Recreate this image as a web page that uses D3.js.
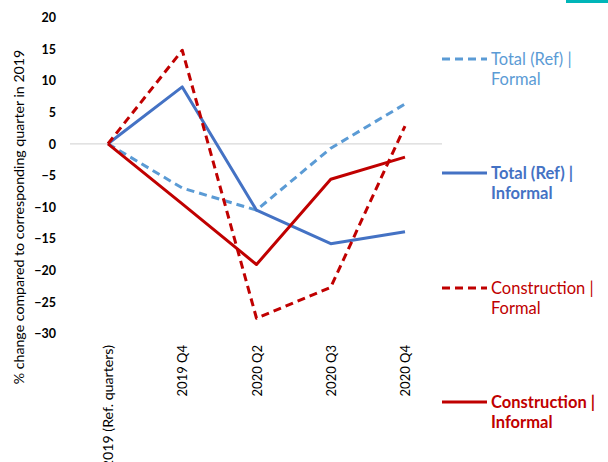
<!DOCTYPE html>
<html><head><meta charset="utf-8">
<script src="https://cdn.jsdelivr.net/npm/d3@7"></script>
<style>body{margin:0;background:#fff}svg{display:block;font-family:Lato,"Open Sans",sans-serif}</style>
</head><body>
<svg id="c" width="608" height="462"></svg>
<script>
const categories = ["2019 (Ref. quarters)", "2019 Q4", "2020 Q2", "2020 Q3", "2020 Q4"];
const totalFormal = [0, -7, -10.5, -0.7, 6.3];
const totalInformal = [0, 9.0, -10.5, -15.8, -13.9];
const constructionFormal = [0, 14.8, -27.6, -22.7, 2.8];
const constructionInformal = [0, -9.5, -19.1, -5.6, -2.1];
const yTicks = [20, 15, 10, 5, 0, -5, -10, -15, -20, -25, -30];
const seriesNames = ["Total (Ref) |\nFormal", "Total (Ref) |\nInformal", "Construction |\nFormal", "Construction |\nInformal"];

const series = [
  {name: seriesNames[0], values: totalFormal, color: "#5B9BD5", dash: "8,5", bold: false, ly: 59},
  {name: seriesNames[1], values: totalInformal, color: "#4472C4", dash: null, bold: true, ly: 173},
  {name: seriesNames[2], values: constructionFormal, color: "#C00000", dash: "8,5", bold: false, ly: 288},
  {name: seriesNames[3], values: constructionInformal, color: "#C00000", dash: null, bold: true, ly: 402}
];

const svg = d3.select("#c");
svg.append("rect").attr("x", 566).attr("y", 0).attr("width", 42).attr("height", 3).attr("fill", "#00B5B8");

const x = d3.scalePoint().domain(categories).range([108, 405]);
const y = d3.scaleLinear().domain([-30, 20]).range([333.4, 17.4]);

// zero gridline
svg.append("line").attr("x1", 70).attr("x2", 442).attr("y1", y(0)).attr("y2", y(0))
  .attr("stroke", "#d9d9d9").attr("stroke-width", 1.3);

// y axis
const ya = svg.append("g").attr("transform", "translate(56,0)")
  .call(d3.axisLeft(y).tickValues(yTicks).tickSize(0).tickPadding(0).tickFormat(d3.format("d")));
ya.select(".domain").remove();
ya.selectAll("text").attr("font-size", 12.5).attr("font-weight", "bold").attr("fill", "#000")
  .attr("font-family", "Lato, sans-serif").attr("dy", "0.35em");

// x axis labels
const xa = svg.append("g").attr("transform", "translate(0,344)")
  .call(d3.axisBottom(x).tickSize(0).tickPadding(0));
xa.select(".domain").remove();
xa.selectAll("text").attr("font-size", 13).attr("fill", "#000").attr("font-family", "Lato, sans-serif")
  .attr("text-anchor", "end").attr("transform", "rotate(-90)").attr("x", -1).attr("y", 0).attr("dy", "0.35em");
xa.selectAll("text").filter((d, i) => i === 0).attr("font-size", 14.2);

// y title
svg.append("text").attr("transform", "translate(19,217) rotate(-90)").attr("text-anchor", "middle")
  .attr("dy", "0.35em").attr("font-size", 14.2).attr("fill", "#000")
  .text("% change compared to corresponding quarter in 2019");

const line = d3.line().x((d, i) => x(categories[i])).y(d => y(d));
series.forEach(s => {
  svg.append("path").datum(s.values).attr("d", line).attr("fill", "none")
    .attr("stroke", s.color).attr("stroke-width", 3).attr("stroke-dasharray", s.dash)
    .attr("stroke-linejoin", "round");
  // legend
  svg.append("line").attr("x1", 442).attr("x2", 487).attr("y1", s.ly).attr("y2", s.ly)
    .attr("stroke", s.color).attr("stroke-width", 3).attr("stroke-dasharray", s.dash);
  const t = svg.append("text").attr("x", 491).attr("y", s.ly).attr("font-size", 16.5)
    .attr("fill", s.color).attr("font-weight", s.bold ? "bold" : "normal");
  s.name.split("\n").forEach((ln, i) => {
    t.append("tspan").attr("x", 491).attr("y", s.ly + 6 + i * 19.5).text(ln);
  });
});
</script>
</body></html>
